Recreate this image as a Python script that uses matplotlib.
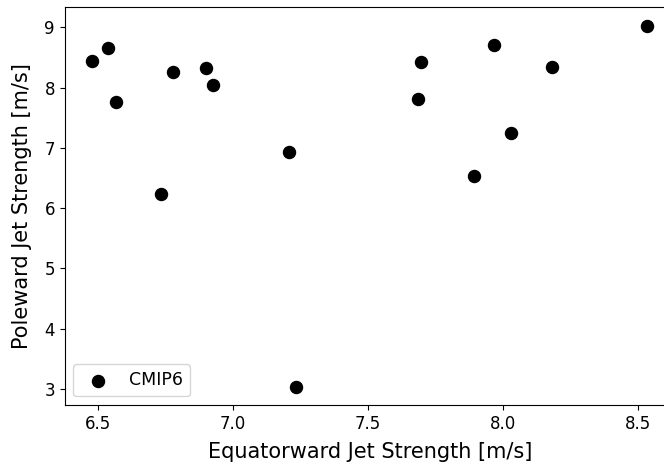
import matplotlib
matplotlib.use('Agg')
import matplotlib.pyplot as plt

# equatorward / poleward jet strength per CMIP6 model [m/s]
equatorward = [6.479, 6.538, 6.568, 6.734, 6.779, 6.901, 6.927, 7.208,
               7.234, 7.685, 7.696, 7.892, 7.966, 8.029, 8.181, 8.533]
poleward = [8.45, 8.667, 7.767, 6.233, 8.267, 8.333, 8.05, 6.933,
            3.033, 7.817, 8.433, 6.533, 8.717, 7.25, 8.35, 9.033]


def main():
    fig = plt.figure(figsize=(6.64, 4.65), dpi=100)
    ax = fig.add_axes([0.0974, 0.129, 0.919, 0.855])
    ax.scatter(equatorward, poleward, s=75, color='black', label='CMIP6')
    ax.set_xlabel('Equatorward Jet Strength [m/s]', fontsize=15, labelpad=7)
    ax.set_ylabel('Poleward Jet Strength [m/s]', fontsize=15, labelpad=9)
    ax.tick_params(labelsize=12)
    ax.legend(loc='lower left', fontsize=12.5)
    fig.savefig('out.png', dpi=100)


if __name__ == '__main__':
    main()
